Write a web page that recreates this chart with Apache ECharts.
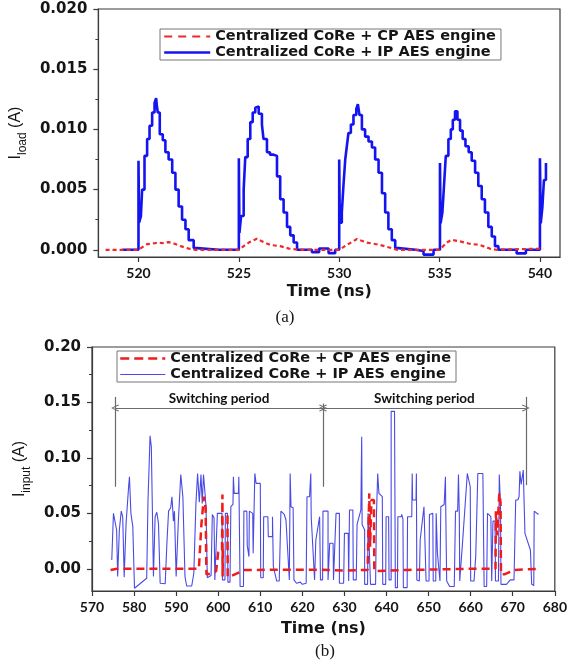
<!DOCTYPE html>
<html><head><meta charset="utf-8">
<script src="https://cdn.jsdelivr.net/npm/echarts@6/dist/echarts.min.js"></script>
<style>html,body{margin:0;padding:0;background:#fff}#c{width:570px;height:670px}</style>
</head><body><div id="c"></div>
<script>
const nameCP = 'Centralized CoRe + CP AES engine';
const nameIP = 'Centralized CoRe + IP AES engine';

// ---- chart (a): I_load vs time ----
const topXTicks = [520, 525, 530, 535, 540];
const topYTicks = [0, 0.005, 0.010, 0.015, 0.020];
const topIP = [
  [519.2,0],[520.0,0.0074],[520.03,0.00225],[520.12,0.0028],[520.18,0.005],[520.3,0.0078],[520.43,0.0092],[520.55,0.0103],[520.68,0.0114],[520.8,0.0122],[520.88,0.0126],[520.92,0.0119],[520.96,0.0114],[521.06,0.0096],[521.21,0.0091],[521.34,0.0081],[521.5,0.0075],[521.68,0.0064],[521.84,0.005],[522.0,0.0036],[522.17,0.0025],[522.34,0.0017],[522.5,0.0008],[522.75,0.00014],[522.92,0],[524.0,0],
  [525.0,0.0076],[525.03,0.0014],[525.11,0.0028],[525.24,0.005],[525.32,0.0077],[525.44,0.0092],[525.57,0.0106],[525.69,0.0114],[525.82,0.0118],[525.9,0.0119],[525.99,0.0113],[526.15,0.0104],[526.23,0.0092],[526.4,0.0081],[526.55,0.0079],[526.73,0.0078],[526.9,0.0061],[527.06,0.0042],[527.23,0.0031],[527.4,0.0019],[527.56,0.0012],[527.73,0.0006],[527.9,0],[528.64,-0.0002],[529.0,0.0001],[529.47,-0.00028],[529.8,0],
  [530.0,0.0075],[530.03,0.00225],[530.13,0.0031],[530.21,0.0053],[530.3,0.0075],[530.38,0.0086],[530.46,0.0097],[530.58,0.0104],[530.71,0.0112],[530.85,0.0117],[530.93,0.0121],[531.01,0.0112],[531.13,0.01],[531.29,0.0094],[531.46,0.009],[531.63,0.0085],[531.79,0.0075],[531.96,0.0064],[532.13,0.0047],[532.29,0.0031],[532.45,0.0017],[532.62,0.0008],[532.79,0.00014],[532.95,0],[533.8,-0.0001],[534.2,-0.0004],[534.7,0],
  [535.02,0.0072],[535.05,0.0022],[535.14,0.0031],[535.22,0.0053],[535.31,0.0078],[535.44,0.0092],[535.56,0.01],[535.66,0.0108],[535.77,0.0115],[535.89,0.0108],[536.02,0.0099],[536.15,0.0092],[536.29,0.0086],[536.45,0.0081],[536.6,0.0074],[536.77,0.0064],[536.93,0.0053],[537.1,0.0042],[537.26,0.0031],[537.43,0.0019],[537.6,0.0011],[537.76,0.0003],[537.93,0],[538.84,-0.0003],[539.3,0],
  [540.0,0.0076],[540.04,0.0022],[540.12,0.0035],[540.2,0.0058],[540.3,0.0072]
];
const topCP = [
  [518.36,0],[520.0,0],[520.27,0.0003],[520.43,0.00047],[520.7,0.00052],[521.0,0.0006],[521.2,0.00055],[521.5,0.00064],[521.8,0.0005],[522.1,0.0003],[522.5,0.0001],[522.8,0],
  [525.0,0],[525.24,0.0003],[525.5,0.0006],[525.9,0.00092],[526.23,0.00064],[526.57,0.0004],[527.06,0.0003],[527.5,0.0001],[528.0,0],
  [530.0,0],[530.38,0.0004],[530.88,0.00089],[531.38,0.0006],[532.04,0.0004],[532.54,0.00017],[532.87,0],
  [535.0,0],[535.36,0.0006],[535.6,0.00083],[536.02,0.0007],[536.5,0.0005],[537.0,0.0004],[537.5,0.0001],[537.83,0],[540.16,0.0001]
];

// ---- chart (b): I_input vs time ----
const botXTicks = [570,580,590,600,610,620,630,640,650,660,670,680];
const botYTicks = [0, 0.05, 0.10, 0.15, 0.20];
const botIP = [
  [574.7,0.008],[575.1,0.05],[575.5,0.051],[575.85,0.035],[576.1,-0.007],[576.5,0.035],[576.95,0.052],[577.3,0.047],[577.65,-0.0075],[578.1,0.041],[578.7,0.074],[578.9,0.083],[579.25,0.05],[579.7,0.038],[580.1,-0.0175],[583.0,-0.0085],[583.3,0.06],[583.8,0.12],[584.1,0.11],[584.3,0.065],[584.6,-0.007],[585.0,0.047],[585.4,0.051],[585.8,0.041],[586.2,-0.013],[587.4,-0.0135],[587.8,0.023],[588.2,0.052],[588.7,0.055],[589.0,0.065],[589.2,0.053],[589.35,0.043],[589.6,0.052],[590.0,-0.007],[590.5,0.041],[591.1,0.085],[591.6,0.065],[592.1,-0.007],[592.5,-0.0155],[593.7,-0.0155],[594.2,-0.004],[594.7,0.059],[595.1,0.086],[595.5,0.06],[595.9,0.085],[596.2,0.059],[596.5,0.085],[596.8,0.071],[597.1,0.056],[597.4,-0.008],
  [598.3,-0.006],[598.6,0.049],[599.0,0.046],[599.2,-0.01],[599.8,0.05],[600.9,0.05],[601.0,-0.01],[601.6,-0.01],[601.7,0.05],[602.2,0.05],[602.3,-0.012],[602.8,-0.012],[603.0,0.056],[603.5,0.058],[603.6,0.083],[603.8,0.068],[604.8,0.068],[604.9,0.083],[605.1,0.083],[605.2,-0.016],[606.0,-0.016],[606.1,0.052],[606.8,0.052],[606.9,0.021],[607.3,0.011],[607.4,0.052],[608.2,0.05],[608.3,0.014],[608.7,0.086],[609.0,0.077],[610.0,0.077],[610.1,-0.008],[610.7,-0.008],[610.8,0.047],[611.8,0.047],[611.9,0.029],[612.9,0.029],[612.9,0.047],[613.1,0.002],[613.9,-0.011],[614.5,-0.011],[614.9,0.052],[615.7,0.049],[616.1,0.044],[616.9,-0.01],[617.1,0.086],[617.3,0.056],[617.8,0.055],[618.0,-0.01],[618.6,-0.013],[619.5,-0.012],[620.0,-0.014],[620.9,-0.013],[621.1,0.065],[621.7,0.065],[622.0,0.086],[622.1,0.047],[622.5,0.047],[622.9,-0.01],[623.2,0.026],[624.1,0.047],[624.3,-0.01],[624.8,-0.01],[624.9,0.052],[626.1,0.052],[626.1,-0.01],[626.5,0.023],[627.3,0.023],[627.4,-0.01],[628.0,0.05],[628.8,0.05],[628.8,-0.013],[629.8,-0.013],[630.0,0.032],[630.9,0.032],[631.0,-0.011],[631.2,0.053],[632.0,0.053],[632.1,-0.01],[632.8,-0.01],[633.0,0.04],[633.9,0.053],[634.1,0.119],[634.2,0.04],[634.8,0.035],[634.8,-0.014],[635.5,-0.014],[635.6,0.05],[636.0,0.05],[636.2,-0.014],[637.4,-0.014],[637.6,0.047],[637.9,0.086],[638.2,0.068],[639.0,0.065],[639.1,-0.014],[639.8,-0.014],[639.9,0.047],[640.5,0.047],[640.6,-0.01],[641.1,-0.01],[641.1,0.142],[641.9,0.142],[642.1,-0.017],[642.6,-0.017],[642.7,0.047],[643.5,0.047],[643.6,0.049],[643.9,0.045],[644.0,-0.017],[644.9,-0.017],[645.0,0.047],[646.0,0.047],[646.1,0.086],[646.2,0.062],[647.0,0.062],[647.1,0.086],[647.2,-0.01],[647.8,-0.011],[648.0,0.026],[648.9,0.056],[649.3,0.057],[649.4,-0.011],[650.1,-0.011],[650.2,0.049],[651.0,0.05],[651.1,-0.011],[651.7,-0.011],[651.8,0.05],[652.1,0.014],[652.5,0.014],[652.7,-0.011],[652.9,0.056],[653.7,0.058],[654.0,0.083],[654.1,0.046],[654.3,-0.011],[655.0,-0.016],[656.1,-0.016],[656.4,0.052],[656.9,0.052],[657.1,0.085],[657.3,0.049],[657.4,-0.011],[657.8,-0.011],[658.0,0.02],[659.2,0.086],[659.9,0.074],[660.0,-0.011],[660.8,-0.011],[661.2,0.011],[661.5,0.011],[661.7,0.086],[662.9,0.086],[663.2,-0.016],[663.8,-0.016],[664.0,0.05],[664.8,0.047],[665.0,-0.011],[665.3,0.043],[665.8,0.043],[665.9,-0.011],[666.6,-0.011],[666.8,0.085],[667.1,0.056],[667.2,-0.014],[668.5,-0.014],[669.4,-0.01],[670.3,-0.01],[670.7,0.062],[671.2,0.062],[671.5,0.065],[671.7,0.088],[672.0,0.076],[672.3,0.076],[672.5,0.089],[672.9,0.032],[674.2,0.017],[674.5,-0.014],[675.0,-0.015],[675.1,0.052],[676.1,0.049]
];
const botCP = [
  [574.4,-0.001],[576.0,0],[595.4,0],[596.0,0.04],[596.6,0.065],[597.0,0.055],[597.2,-0.005],[598.5,-0.004],[599.5,-0.002],[600.0,0.015],[600.9,0.016],[601.0,0.067],[601.05,-0.007],[601.1,0.016],[602.2,0.016],[602.2,0.05],[602.25,-0.007],[602.8,-0.007],[606.3,-0.001],[624.0,-0.0008],[630.0,-0.0015],[635.5,-0.001],[635.9,0.068],[636.1,0.02],[636.4,0.062],[637.0,0.062],[637.1,-0.002],[645.0,-0.001],[660.0,0],[665.9,0],[666.0,0.052],[666.3,0.03],[666.8,0.068],[667.1,0.06],[667.2,-0.005],[668.0,-0.005],[670.5,-0.001],[676.2,0]
];
// switching period annotation (time, current)
const switchX = [575.5, 624.9, 673.1];
const switchArrowY = 0.145;
const switchLabel = 'Switching period';

const txt = '#151515';
const axisCol = '#3a3a3a';
const chevron = 'path://M5,0L10,9L9,10L5,2.5L1,10L0,9Z';

function xAxisCfg(grid, min, max, ticks, gap){
  return {
    type:'value', gridIndex:grid, min:min, max:max,
    axisLine:{show:true, onZero:false, lineStyle:{color:axisCol, width:1.2}},
    axisTick:{show:true, length:5, customValues:ticks, lineStyle:{color:axisCol, width:1.2}},
    axisLabel:{customValues:ticks, fontFamily:'Lato', fontWeight:'bold', fontSize:14, color:txt, margin:9},
    splitLine:{show:false},
    name:'Time (ns)', nameLocation:'middle', nameGap:gap,
    nameTextStyle:{fontFamily:'DejaVu Sans', fontWeight:'bold', fontSize:16, color:txt}
  };
}
function yAxisCfg(grid, min, max, ticks, dec, nm, gap){
  return {
    type:'value', gridIndex:grid, min:min, max:max, splitNumber:4,
    axisLine:{show:true, onZero:false, lineStyle:{color:axisCol, width:1.2}},
    axisTick:{show:true, length:5, customValues:ticks, lineStyle:{color:axisCol, width:1.2}},
    minorTick:{show:true, splitNumber:2, length:3, lineStyle:{color:axisCol, width:1}},
    axisLabel:{customValues:ticks, formatter:v=>v.toFixed(dec), fontFamily:'DejaVu Sans', fontWeight:'bold', fontSize:15, color:txt, margin:11},
    splitLine:{show:false},
    name:'{m|I}{s|'+nm+'}{m| (A)}', nameLocation:'middle', nameGap:gap,
    nameTextStyle:{rich:{
      m:{fontFamily:'Liberation Sans', fontSize:16, color:txt, lineHeight:20, verticalAlign:'top'},
      s:{fontFamily:'Liberation Sans', fontSize:12, color:txt, lineHeight:12, padding:[9,0,0,0], verticalAlign:'top'}
    }}
  };
}
const legendText = {fontFamily:'DejaVu Sans', fontWeight:'bold', fontSize:14.5, color:txt};
const switchRich = {t:{fontFamily:'Lato', fontWeight:'bold', fontSize:13.5, color:'#111'}};

const option = {
  animation:false,
  backgroundColor:'#fff',
  grid:[
    {left:98, top:9, right:10, bottom:413, show:true, borderColor:axisCol, borderWidth:1.2},
    {left:92, top:347, right:14, bottom:79, show:true, borderColor:axisCol, borderWidth:1.2}
  ],
  xAxis:[ xAxisCfg(0, 518, 541, topXTicks, 27), xAxisCfg(1, 570, 680, botXTicks, 30) ],
  yAxis:[ yAxisCfg(0, -0.0006, 0.02, topYTicks, 3, 'load', 66), yAxisCfg(1, -0.02, 0.20, botYTicks, 2, 'input', 56) ],
  legend:[
    {data:[
      {name:nameCP, lineStyle:{color:'#f02828', width:2.2, type:[8,6]}},
      {name:nameIP, lineStyle:{color:'#1414f0', width:2.4, type:'solid'}}
     ], left:160, top:29, orient:'vertical', itemWidth:46, itemHeight:14, itemGap:1,
     itemStyle:{opacity:0, borderWidth:0},
     padding:[0,5,0,3], borderColor:'#777', borderWidth:1, backgroundColor:'#fff', textStyle:legendText, selectedMode:false},
    {data:[
      {name:nameCP, lineStyle:{color:'#ee1c1c', width:2.5, type:[9,5]}},
      {name:nameIP, lineStyle:{color:'#4a4ae6', width:1.2, type:'solid'}}
     ], left:117, top:351, orient:'vertical', itemWidth:45, itemHeight:13, itemGap:1,
     itemStyle:{opacity:0, borderWidth:0},
     padding:[0,5,0,2], borderColor:'#777', borderWidth:1, backgroundColor:'#fff', textStyle:legendText, selectedMode:false}
  ],
  graphic:[
    {type:'text', x:285, y:318, style:{text:'(a)', fontFamily:'Liberation Serif', fontSize:17, fill:txt, align:'center', verticalAlign:'middle'}},
    {type:'text', x:325, y:652, style:{text:'(b)', fontFamily:'Liberation Serif', fontSize:17, fill:txt, align:'center', verticalAlign:'middle'}}
  ],
  series:[
    {name:nameIP, type:'line', xAxisIndex:0, yAxisIndex:0, data:topIP, step:'end', symbol:'none', showSymbol:false,
     lineStyle:{color:'#1414f0', width:2.6}, itemStyle:{color:'#1414f0'}, z:2},
    {name:nameCP, type:'line', xAxisIndex:0, yAxisIndex:0, data:topCP, symbol:'none', showSymbol:false,
     lineStyle:{color:'#f02828', width:2.2, type:[4,3]}, itemStyle:{color:'#f02828'}, z:3},
    {name:nameIP, type:'line', xAxisIndex:1, yAxisIndex:1, data:botIP, symbol:'none', showSymbol:false,
     lineStyle:{color:'#4a4ae6', width:1.1}, itemStyle:{color:'#4a4ae6'}, z:2},
    {name:nameCP, type:'line', xAxisIndex:1, yAxisIndex:1, data:botCP, symbol:'none', showSymbol:false,
     lineStyle:{color:'#ee1c1c', width:2.5, type:[8,5]}, itemStyle:{color:'#ee1c1c'}, z:3},
    {type:'line', xAxisIndex:1, yAxisIndex:1, data:[], symbol:'none', z:4,
     markLine:{silent:true, animation:false, symbol:'none',
       lineStyle:{color:'#6a6a6a', width:1.2, type:'solid'},
       label:{show:false, position:'insideMiddleTop', distance:2, rich:switchRich},
       data:[
         [{coord:[switchX[0],0.155]},{coord:[switchX[0],0.074]}],
         [{coord:[switchX[1],0.149]},{coord:[switchX[1],0.074]}],
         [{coord:[switchX[2],0.155]},{coord:[switchX[2],0.0755]}],
         [{coord:[switchX[0],switchArrowY], symbol:chevron, symbolSize:[7,8],
           label:{show:true, position:'insideMiddleTop', distance:2, formatter:'{t|'+switchLabel+'}', rich:switchRich}},
          {coord:[switchX[1],switchArrowY], symbol:chevron, symbolSize:[7,8]}],
         [{coord:[switchX[1],switchArrowY], symbol:chevron, symbolSize:[7,8],
           label:{show:true, position:'insideMiddleTop', distance:2, formatter:'{t|'+switchLabel+'}', rich:switchRich}},
          {coord:[switchX[2],switchArrowY], symbol:chevron, symbolSize:[7,8]}]
       ]}
    }
  ]
};
const chart = echarts.init(document.getElementById('c'), null, {renderer:'canvas'});
chart.setOption(option);
</script></body></html>
